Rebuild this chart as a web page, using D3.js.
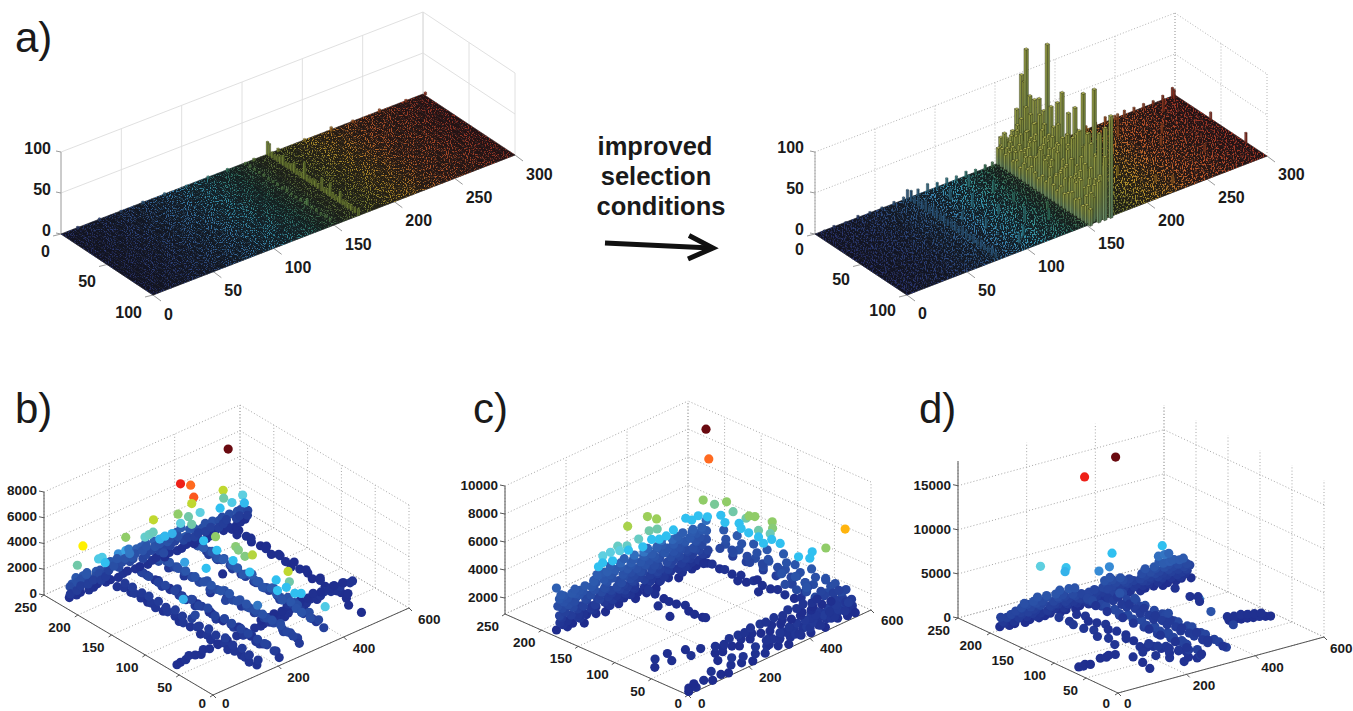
<!DOCTYPE html>
<html>
<head>
<meta charset="utf-8">
<script src="https://cdn.jsdelivr.net/npm/d3@7"></script>
<style>
  html, body { margin: 0; background: #fff; overflow: hidden; }
  text { font-family: "Liberation Sans", Arial, sans-serif; fill: #1a1a1a; }
  .tick3d { font-weight: bold; }
</style>
</head>
<body>
<script>
// ---- data ----------------------------------------------------------------

const xTicksA = [0, 50, 100, 150, 200, 250, 300];
const yTicksA = [0, 50, 100];
const zTicksA = [0, 50, 100];
const xTicksS = [0, 200, 400, 600];
const yTicksS = [0, 50, 100, 150, 200, 250];
const zTicksB = [0, 2000, 4000, 6000, 8000];
const zTicksC = [2000, 4000, 6000, 8000, 10000];
const zTicksD = [0, 5000, 10000, 15000];

// position colour of the histogram floor
const heatStops = [0, 40, 80, 110, 135, 160, 180, 205, 240, 300];
const heatColors = ['#34418f', '#37549c', '#3a78ad', '#3a9fb8', '#3f9a82', '#7c9c4c', '#98a03a', '#c49a2c', '#c8622c', '#b0362a'];

// how much of the floor speckle shows at each x, by eye
const glowX = [0, 30, 60, 90, 120, 140, 165, 200, 240, 300];
const glowLeft = [0.5, 0.6, 0.75, 0.95, 0.75, 0.5, 0.5, 0.85, 0.85, 0.7];
const glowRight = [0.55, 0.6, 0.65, 1, 0.9, 0.55, 0.5, 0.9, 0.95, 0.8];

// left histogram: the readable bars only, the rest of the 300x100 floor is
// too fine to read and is shown as a speckle texture
const leftBarX = [
  170,170,170,170,170,170,170,170,170,170,170,170,170,170,170,170,170,170,170,170,170,170,170,170,170,170,170,170,170,170,170,170,170,170,
  151,151,151,151,151,151,151,151,151,151,151,151,151,151,151,151,151,151,151,151,
  12,30,48,66,84,102,120,136,158,178,200,222,240,262,284,300];
const leftBarY = [
  0,2,5,8,11,14,17,20,23,26,29,32,35,38,40,43,46,49,52,55,59,62,65,68,71,74,77,79,82,85,88,91,95,99,
  1,6,11,16,21,26,31,36,41,46,51,56,61,66,68,73,78,83,88,93,
  1,1,1,1,1,1,1,1,1,1,1,1,1,1,1,1];
const leftBarZ = [
  16,15,7,6,7,9,12,6,7,8,12,6,6,7,21,7,6,7,8,6,16,6,7,16,7,6,6,14,6,7,6,7,6,8,
  2,3,2,2,3,2,2,3,2,3,2,2,3,3,8,2,3,2,3,2,
  3,3,2,3,3,2,3,3,3,4,3,5,3,4,3,3];

// right histogram: the tall rows around x = 151..170
const peakX = [
  168,168,168,168,168,168,168,168,168,168,168,168,168,168,168,168,168,168,168,
  165.5,165.5,165.5,165.5,165.5,165.5,165.5,165.5,165.5,165.5,165.5,165.5,165.5,165.5,165.5,165.5,165.5,165.5,165.5,165.5,
  163,163,163,163,163,163,163,163,163,163,163,163,163,163,163,163,163,
  160.5,160.5,160.5,160.5,160.5,160.5,160.5,160.5,160.5,160.5,160.5,160.5,160.5,160.5,160.5,160.5,160.5,160.5,160.5,160.5,
  158,158,158,158,158,158,158,158,158,158,158,158,158,158,158,158,158,158,158,158,158,
  155.5,155.5,155.5,155.5,155.5,155.5,155.5,155.5,155.5,155.5,155.5,155.5,155.5,155.5,155.5,155.5,155.5,155.5,155.5,155.5,
  153,153,153,153,153,153,153,153,153,153,153,153,153,153,153,153,153,153,153,153,153,
  151,151,151,151,151,151,151,151,151,151,151,151,151,151,151,151,151,151,151,151,151,151,151,151,151,151];
const peakY = [
  3,6,8,12,17,22,27,31,35,42,47,54,61,70,76,82,88,94,100,
  1,6,11,16,21,26,31,36,41,46,51,56,61,66,71,76,81,86,91,96,
  5,10,16,23,32,38,43,48,54,60,65,72,81,85,90,94,100,
  3,8,13,18,23,28,33,38,43,48,53,58,63,68,73,78,83,88,93,98,
  0,5,10,15,20,25,30,35,40,45,50,55,60,65,70,75,80,85,90,95,100,
  2,7,12,17,22,27,32,37,42,47,52,57,62,67,72,77,82,87,92,97,
  0,1,4,7,13,16,22,27,32,38,43,48,54,60,65,70,76,82,87,93,98,
  0,4,8,12,16,20,24,28,32,36,40,44,48,52,56,60,64,68,72,76,80,84,88,92,96,100];
const peakZ = [
  102,96,137,83,82,87,76,160,87,97,113,93,105,129,85,143,90,105,124,
  60,52,70,65,58,72,64,55,68,75,60,70,62,78,66,72,60,68,74,62,
  45,30,46,60,59,50,59,55,66,62,74,88,91,82,70,101,77,
  38,42,34,48,44,52,40,56,46,50,58,44,60,52,48,62,50,56,46,54,
  28,35,38,44,30,42,47,35,50,40,38,52,36,44,55,40,48,60,46,42,50,
  26,30,24,34,28,38,30,26,40,34,42,28,36,44,30,38,42,34,40,30,
  32,23,40,24,30,26,32,28,32,36,49,40,36,30,37,34,40,38,45,30,37,
  20,22,18,24,16,20,14,22,18,24,20,16,22,18,26,20,16,24,18,22,26,20,24,18,22,20];

// right histogram: other visible bars (step at x = 75, back edge, spikes)
const floorBarX = [
  76,76,76,76,76,76,76,76,76,76,76,76,76,76,76,76,76,76,76,76,76,76,76,76,76,
  6,14,24,34,44,54,64,72,84,92,100,108,116,124,132,140,146,176,184,192,200,208,216,224,232,240,248,256,264,272,280,288,296,
  98,104,112,120,88,94,126,108,118,130,100,142,134,190,205,220,236,252,270,245,262,280,210,228,296,298,299];
const floorBarY = [
  0,4,8,12,16,20,24,28,32,36,40,44,48,52,56,60,64,68,72,76,80,84,88,92,96,
  1,1,1,1,1,1,1,1,1,1,1,1,1,1,1,1,1,1,1,1,1,1,1,1,1,1,1,1,1,1,1,1,1,
  18,34,52,70,44,62,28,84,12,45,90,66,78,30,60,82,20,46,70,8,34,12,42,90,3,40,77];
const floorBarZ = [
  11,13,9,12,10,13,9,11,12,9,11,8,10,10,8,11,9,8,10,8,9,7,8,8,7,
  2,3,2,4,3,3,4,5,8,10,7,8,6,7,5,6,6,5,6,4,6,5,7,6,6,8,5,7,6,6,5,7,12,
  14,16,12,17,11,13,15,12,14,10,11,9,13,10,12,9,13,11,10,14,12,16,9,10,11,10,12];

// scatter b): one line per ridge, last block are the single points above them
const bX = [
  517,512,520,515,522,518,514,520,516,512,518,522,515,519,513,517,521,516,500,498,
  528,524,530,526,532,527,529,525,531,
  18,33,47,63,78,92,107,122,150,165,180,205,220,235,262,277,292,320,335,350,365,380,395,410,425,440,455,470,485,500,515,530,545,558,570,
  300,320,342,362,384,404,426,446,468,488,510,530,552,
  141,146,150,144,148,152,146,143,150,147,153,149,145,150,155,148,152,146,151,156,149,153,158,152,148,155,
  157,155,159,156,160,158,162,159,163,161,165,162,166,164,168,165,167,
  219,214,222,216,210,218,224,213,217,221,212,216,222,215,210,219,223,214,218,212,220,216,211,217,222,213,
  228,230,226,232,229,227,233,230,226,
  205,203,207,204,208,205,209,206,210,207,211,208,212,209,213,210,214,
  278,284,288,282,290,294,292,298,296,300,
  262,270,276,268,274,280,266,272,278,270,275,281,268,273,279,284,276,281,287,278,283,287,280,285,290,283,
  258,262,264,262,266,268,266,270,272,270,274,276,274,278,280,278,280,
  396,392,394,390,392,388,390,386,388,384,
  388,384,386,382,385,380,383,378,381,376,378,
  376,371,368,374,378,370,366,373,377,369,365,372,376,368,364,371,375,367,363,370,374,366,362,369,373,364,
  362,358,360,356,362,358,354,360,356,352,358,354,350,356,352,348,354,350,346,352,
  30,48,66,84,102,120,138,156,174,192,210,228,246,264,282,300,318,336,354,372,390,408,426,444,462,480,498,516,534,552,570,
  32,50,68,86,104,122,140,158,176,194,212,230,248,266,284,302,320,338,356,374,392,410,428,446,464,482,500,518,536,554,572,
  30,48,66,84,102,120,138,
  31,47,67,83,103,119,139,155,175,191,211,227,247,263,283,299,319,335,355,371,391,407,427,443,463,479,499,515,535,551,571,
  160,178,196,214,232,250,268,286,304,322,340,358,
  510,362,391,357,384,478,490,544,507,477,537,344,374,418,352,357,269,184,245,258,270,57,36,107,118,115,78,284,300,322,200,343,353,351,344,342,352,358,363,359,356,367,362,147,271,275,263,369,292,167,352,347,345,340,334];
const bY = [
  222,212,202,192,182,172,162,152,142,132,122,112,102,92,82,72,62,52,22,40,
  217,197,177,157,137,117,97,77,57,
  62,64,63,66,64,62,66,64,65,63,66,64,62,66,65,63,66,64,66,63,65,68,66,64,67,69,66,68,70,67,65,68,70,67,69,
  74,72,75,73,76,74,77,75,78,76,74,77,75,
  210,202,194,186,178,170,162,154,146,138,130,122,114,106,98,90,82,74,66,58,50,42,34,26,18,10,
  206,194,182,170,158,146,134,122,110,98,86,74,62,50,38,26,14,
  209,201,193,185,177,169,161,153,145,137,129,121,113,105,97,89,81,73,65,57,49,41,33,25,14,5,
  195,175,155,135,115,95,75,55,35,
  205,193,181,169,157,145,133,121,109,97,85,73,61,49,37,25,13,
  200,180,160,140,120,100,80,60,40,20,
  207,199,191,183,175,167,159,151,143,135,127,119,111,103,95,87,79,71,63,55,47,39,31,23,15,9,
  203,191,179,167,155,143,131,119,107,95,83,71,59,47,35,25,17,
  201,183,165,147,129,111,93,75,57,39,
  210,192,174,156,138,120,102,84,66,48,30,
  220,212,204,196,188,180,172,164,156,148,140,132,124,116,108,100,92,84,76,68,60,52,44,36,24,12,
  216,206,196,186,176,166,156,146,136,126,116,106,96,86,76,66,56,46,36,26,
  227,225,228,224,226,229,225,227,224,226,228,225,227,224,226,229,225,227,224,226,228,225,227,224,226,229,225,227,224,226,228,
  224,227,225,228,223,226,224,228,225,223,227,224,226,228,224,225,227,223,226,228,224,226,223,227,225,224,228,226,223,227,225,
  226,224,227,225,223,226,224,
  226,224,228,225,227,223,226,229,224,227,225,228,223,226,228,224,227,225,228,223,226,224,228,225,227,223,226,229,224,227,225,
  224,228,225,223,227,225,228,224,226,223,228,225,
  224,223,222,201,217,216,221,219,217,220,213,218,217,221,218,204,218,218,219,219,219,220,218,221,221,215,225,216,216,216,220,162,137,132,119,107,59,60,82,65,51,47,9,115,65,143,169,164,214,107,184,162,137,110,66];
const bZ = [
  150,90,200,120,60,180,100,240,140,80,160,110,60,190,120,70,150,90,100,120,
  100,160,90,130,80,150,110,90,130,
  220,180,260,300,240,190,280,230,210,260,180,300,250,190,230,280,200,260,220,170,240,300,260,200,280,340,250,300,380,320,260,330,400,350,300,
  140,180,120,160,200,150,130,170,210,150,190,140,170,
  300,420,260,500,340,220,460,380,280,520,360,240,430,310,500,270,400,340,220,460,300,380,260,420,330,280,
  520,600,480,640,560,500,620,540,680,500,600,520,640,480,560,450,400,
  520,640,430,700,580,480,720,600,450,660,540,700,430,610,520,680,470,590,720,500,630,440,560,680,480,350,
  300,260,340,280,320,250,310,270,330,
  850,920,800,960,880,820,940,860,990,810,900,960,840,900,780,860,620,
  520,460,600,420,560,480,620,440,520,380,
  1000,1150,900,1250,1050,850,1200,1000,1300,950,1150,1250,880,1100,1300,950,1200,1050,820,1150,950,1100,800,900,700,550,
  1350,1420,1300,1500,1380,1320,1460,1350,1480,1300,1400,1260,1360,1220,1150,1000,900,
  480,420,520,440,400,500,430,380,460,400,
  700,620,760,650,590,720,640,560,680,600,500,
  1250,1100,1350,1200,1050,1400,1150,1300,1050,1250,1400,1100,1300,1150,1350,1050,1250,1400,1150,1300,1100,1250,1000,1150,900,750,
  1500,1600,1450,1650,1550,1450,1700,1500,1620,1480,1680,1540,1450,1620,1500,1400,1500,1350,1400,1200,
  180,240,150,260,200,170,230,150,210,260,180,240,150,220,270,190,150,230,260,180,220,160,240,190,150,210,170,230,160,200,150,
  1300,1500,1500,1450,1500,1300,1200,1500,2000,2100,1900,1800,1700,1750,1800,1650,1600,1550,1600,1700,1500,1300,1200,1250,1300,1150,1100,1200,1300,1100,900,
  1050,1250,1200,1100,1150,1050,950,
  480,620,640,700,720,660,600,820,1000,1100,1000,950,900,920,960,880,860,840,860,920,820,740,700,720,760,680,660,700,740,660,540,
  1250,1500,1400,1350,1300,1400,1450,1350,1300,1350,1250,1300,
  6400,5400,5000,5100,3800,3800,2900,2600,2500,2300,2250,3400,2900,2600,2600,2900,3800,3400,2700,2750,2800,4100,2900,2500,2500,2300,1500,2200,2250,2200,1900,3400,3300,3200,3200,3700,3800,2900,2300,2300,2300,2300,2500,2200,1900,2300,2100,150,1100,1000,2300,2300,2300,2300,2300];

// scatter c)
const cX = [
  20,44,68,92,116,140,164,188,212,236,260,284,308,332,356,380,404,428,452,476,500,
  32,56,80,104,128,152,176,200,224,248,272,296,320,344,368,392,416,440,464,488,
  24,40,72,88,120,136,168,184,216,232,264,280,312,328,360,376,408,424,456,472,504,
  30,54,82,102,130,150,178,198,226,246,274,294,322,342,370,390,418,438,466,486,
  18,46,66,94,114,142,162,190,210,238,258,286,306,334,354,382,402,430,450,478,498,
  34,58,78,106,126,154,174,202,222,250,270,298,318,346,366,394,414,442,462,490,
  22,42,70,90,118,138,166,186,214,234,262,282,310,330,358,378,406,426,454,474,502,
  32,54,80,102,128,150,176,198,224,246,272,294,320,342,368,390,416,438,464,486,
  20,44,68,92,116,140,164,188,212,236,260,284,308,332,356,380,404,428,452,476,500,
  30,56,78,104,126,152,174,200,222,248,270,296,318,344,366,392,414,440,462,488,
  146,170,194,218,242,266,290,314,338,362,386,410,434,458,482,506,
  296,300,305,298,303,308,300,295,302,298,290,262,248,
  488,492,497,490,495,500,494,498,503,506,510,512,505,515,476,520,480,
  530,512,526,508,532,514,528,510,534,516,524,506,530,512,528,508,534,
  508,526,504,522,510,530,506,524,512,528,504,522,508,530,514,526,510,
  520,516,524,518,526,520,515,522,527,518,524,516,526,520,528,518,524,
  480,472,486,476,490,480,470,484,
  545,555,540,560,548,558,566,552,538,550,562,544,
  12,22,34,48,66,88,100,120,140,160,172,190,205,222,240,250,265,280,295,310,325,340,355,370,385,400,415,430,445,460,475,490,505,520,535,550,565,558,
  300,316,332,348,364,380,396,412,428,444,460,476,492,508,524,540,556,
  360,376,394,410,426,442,458,474,490,506,522,538,
  440,470,500,530,300,340,380,420,460,520,
  190,205,220,240,255,275,295,315,335,355,375,395,415,435,455,475,495,515,535,555,
  200,224,248,272,296,320,344,368,392,416,440,464,488,512,536,
  40,60,86,110,125,150,165,176,
  527,505,489,507,520,515,512,512,505,521,503,488,500,512,520,263,335,341,312,331,216,232,275,167,192,213,244,136,157,180,279,320,333,356,389,451,454,480,491,518,498,518,503,499,500,485,512,511,492,505,532,27];
const cY = [
  188,183,186,180,187,184,181,188,183,186,180,187,184,182,188,185,181,186,183,187,182,
  184,188,181,186,183,189,180,185,187,182,186,183,188,181,185,187,182,184,188,183,
  185,189,181,186,183,188,184,180,187,182,185,189,181,186,183,188,184,180,187,182,185,
  187,182,185,188,181,186,183,187,180,185,188,182,186,184,181,187,183,185,188,182,
  183,187,190,182,186,180,188,184,181,187,183,186,189,181,185,182,187,183,188,184,180,
  186,181,187,184,188,182,185,181,187,183,186,188,182,185,181,187,184,186,182,185,
  187,181,185,189,182,186,183,188,180,185,187,182,186,183,188,181,185,187,182,186,184,
  183,187,182,186,181,188,184,186,182,187,183,181,186,184,188,182,185,187,183,186,
  184,188,182,186,180,187,183,185,189,181,186,183,187,184,180,186,188,182,185,187,183,
  186,182,187,184,181,186,188,183,185,181,187,184,182,186,188,183,185,181,187,184,
  185,181,187,183,188,184,181,186,183,187,182,185,188,184,182,186,
  180,170,160,150,142,132,124,114,106,100,175,150,128,
  182,172,164,154,146,136,126,118,108,98,90,68,78,60,102,122,132,
  172,162,152,142,132,122,112,102,92,82,72,62,52,42,32,22,12,
  168,158,148,138,128,118,108,98,88,78,68,58,48,38,28,18,8,
  165,155,145,135,125,115,105,95,85,75,65,55,45,35,25,15,5,
  72,64,56,50,44,38,34,28,
  26,22,16,12,30,8,20,5,36,14,28,10,
  4,8,3,12,6,3,10,5,3,8,12,6,10,4,8,12,5,9,13,6,10,4,8,13,6,10,5,12,7,4,9,13,6,10,5,8,12,4,
  14,16,13,15,17,14,16,13,15,17,14,16,13,15,17,14,16,
  3,5,2,4,6,3,5,2,4,6,3,5,
  16,20,15,19,18,16,20,15,17,14,
  42,38,44,40,36,42,38,44,40,36,42,38,44,40,36,42,38,44,40,36,
  46,44,47,45,46,48,45,47,46,44,47,45,46,44,47,
  62,70,58,74,48,66,28,56,
  195,182,183,175,164,153,134,122,127,102,94,107,96,25,2,192,195,185,183,180,186,180,182,186,186,182,183,179,182,178,178,183,178,178,182,191,184,186,178,171,157,146,137,125,112,99,99,87,54,44,52,191];
const cZ = [
  950,1050,1000,900,1100,1000,950,1050,1000,1100,950,1000,1050,900,1000,1100,950,1000,1050,950,1000,
  1300,1250,1350,1300,1400,1250,1300,1350,1250,1300,1400,1300,1250,1350,1300,1400,1250,1350,1300,1250,
  1500,1600,1550,1450,1600,1500,1550,1650,1450,1550,1600,1500,1650,1550,1450,1600,1500,1550,1650,1500,1550,
  1850,1800,1900,1850,1800,1900,1850,1800,1900,1850,1800,1900,1850,1800,1900,1850,1800,1900,1850,1800,
  2100,2000,2150,2050,2200,2100,2000,2150,2100,2000,2150,2050,2200,2100,2000,2150,2100,2050,2200,2100,2000,
  2400,2350,2450,2400,2350,2450,2400,2350,2450,2400,2350,2450,2400,2350,2450,2400,2350,2450,2400,2350,
  2650,2700,2550,2650,2600,2700,2600,2650,2550,2700,2650,2600,2700,2550,2650,2700,2600,2650,2550,2700,2650,
  2950,2900,3000,2950,2900,3000,2950,2900,3000,2950,2900,3000,2950,2900,3000,2950,2900,3000,2950,2900,
  3250,3150,3200,3100,3250,3300,3200,3250,3150,3300,3200,3250,3300,3150,3250,3200,3150,3300,3200,3250,3300,
  3400,3350,3300,3350,3500,3550,3500,3550,3500,3600,3500,3550,3500,3550,3500,3450,3500,3450,3500,3450,
  3700,3750,3800,3850,3800,3900,3950,3850,3800,3900,3850,3750,3700,3800,3750,3900,
  1000,1100,950,1050,1000,1100,950,1000,900,1050,1400,1100,1000,
  1100,1250,1050,1300,1100,1200,1000,1250,1100,1050,1150,1000,1100,1200,1050,1000,1100,
  3300,2700,3400,2800,3200,2600,3300,2900,3400,2700,3200,2800,3300,2600,3100,2500,2200,
  2300,1800,2500,1900,2200,1700,2400,1800,2300,1700,2100,1600,2300,1800,2100,1600,1500,
  2900,2400,3000,2400,2800,2300,2900,2500,3000,2300,2800,2400,2900,2200,2700,2100,1900,
  3000,2500,3100,2400,2900,2500,3000,2300,
  2700,2100,2400,1600,1900,1400,2200,1200,2800,1700,2000,1100,
  900,950,1000,900,1100,950,1300,1000,950,1200,1500,1100,1300,950,1200,1500,1050,1300,1600,1100,1400,950,1200,1600,1100,1350,1000,1500,1200,950,1300,1600,1100,1400,1000,1300,1700,1000,
  1100,1300,1200,1500,1250,1400,1600,1300,1500,1700,1350,1550,1800,1400,1600,1800,1500,
  1500,1300,1700,1400,1600,1300,1800,1500,1400,1700,1500,1900,
  1500,1600,1400,1800,1300,1500,1400,1600,1500,1700,
  950,1000,1050,1000,950,1100,1000,1050,950,1000,1100,1050,1000,950,1100,1000,1050,950,1000,1100,
  1250,1200,1300,1350,1250,1300,1400,1250,1350,1300,1400,1300,1350,1250,1200,
  1000,1200,1100,1000,1300,1050,1000,1100,
  10000,8400,5600,5300,5600,5200,5200,5600,5600,5600,5500,5200,5100,5600,7400,5800,5700,5700,5200,5200,5000,5000,5000,4800,4800,4800,4500,4500,4500,4500,4500,4500,4500,4500,4500,4500,4500,4500,4500,4500,4500,4500,4500,4500,4500,4500,4500,4500,4500,4500,4500,3800];

// scatter d)
const dX = [
  34,55,76,97,118,139,160,181,202,223,244,265,286,307,328,349,370,391,412,433,454,475,496,517,538,559,580,
  44,66,88,108,130,150,170,192,212,234,254,276,296,318,338,360,380,402,422,444,464,486,506,528,548,570,
  36,53,78,95,120,137,162,179,204,221,246,263,288,305,330,347,372,389,414,431,456,473,498,515,540,557,578,
  46,64,88,106,130,148,172,190,214,232,256,274,298,316,340,358,382,400,424,442,466,484,508,526,550,568,
  33,56,75,98,117,140,159,182,201,224,243,266,285,308,327,350,369,392,411,434,453,476,495,518,537,560,582,
  88,110,130,152,172,194,214,236,340,362,384,442,462,484,504,526,546,568,
  100,121,142,163,184,205,226,247,332,353,374,452,473,494,515,536,
  490,505,520,535,550,498,514,530,
  160,168,157,165,172,160,170,162,
  215,222,212,218,225,214,220,228,210,217,
  20,30,42,52,90,104,118,132,480,494,508,522,536,550,564,575,
  486,502,518,534,550,566,
  202,214,226,238,250,262,274,210,232,254,268,184,196,143,152,154,
  220,244,228,256,240,266,
  266,260,270,263,272,265,258,268,274,262,270,264,272,266,275,268,262,272,266,
  256,252,258,254,260,256,262,258,264,260,266,262,268,264,270,266,
  280,276,284,278,286,282,288,284,290,
  330,326,334,328,336,331,325,333,338,329,335,328,336,331,338,333,340,335,338,
  320,316,322,318,324,320,326,322,328,324,330,326,332,328,334,330,
  345,342,348,344,350,346,352,348,354,
  351,268,470,348,147,203,213,323,359,398,405,337,429,309,334,500,495,509,493,228];
const dY = [
  203,199,202,197,201,198,200,203,198,201,197,202,199,201,197,203,198,200,202,197,201,199,196,200,198,201,197,
  201,198,203,200,197,201,199,202,198,203,200,197,201,199,203,198,200,197,202,199,201,198,203,200,197,201,
  199,203,197,201,198,202,197,200,203,198,201,199,203,197,200,198,202,199,197,201,199,203,198,200,197,199,202,
  198,202,199,197,201,203,198,200,197,202,199,201,198,203,200,197,201,199,203,198,200,197,202,199,201,198,
  201,197,200,203,199,196,202,198,200,203,197,200,198,202,199,197,201,199,203,198,200,197,201,199,202,197,200,
  198,201,197,200,203,198,201,197,200,203,198,200,197,201,198,203,199,197,
  200,197,202,199,196,201,198,200,199,202,197,200,197,201,198,200,
  192,190,194,191,193,204,203,205,
  178,166,154,142,130,118,106,92,
  180,170,160,150,140,130,120,110,100,92,
  72,70,74,71,76,74,78,75,84,82,80,78,76,74,72,70,
  90,88,86,84,82,80,
  74,70,66,60,54,46,40,32,44,26,20,60,46,27,43,59,
  70,56,60,42,50,36,
  190,180,170,160,150,140,130,120,110,100,90,80,70,60,50,40,30,22,14,
  185,175,165,155,145,135,125,115,105,95,85,75,65,55,45,35,
  185,165,145,125,105,85,65,45,25,
  192,182,172,162,152,142,132,122,112,102,92,82,72,62,52,42,32,22,12,
  187,177,167,157,147,137,127,117,107,97,87,77,67,57,47,37,
  186,166,146,126,106,86,66,46,26,
  192,196,183,196,200,190,197,203,206,86,72,102,50,163,153,179,153,148,137,19];
const dZ = [
  250,300,200,280,240,320,260,220,300,250,280,230,300,210,260,320,240,280,220,300,250,330,280,240,300,260,220,
  620,680,640,700,620,660,700,640,680,620,700,640,660,620,700,640,680,620,660,700,640,680,620,700,660,640,
  950,1050,1000,1100,1000,1050,950,1100,1000,1050,950,1100,1000,1050,1100,1000,950,1050,1000,950,1100,1000,1050,1100,1000,1050,900,
  1350,1300,1400,1350,1300,1400,1350,1300,1400,1350,1300,1400,1350,1300,1400,1350,1300,1400,1350,1300,1400,1350,1300,1400,1350,1300,
  1400,1600,1700,1650,1750,1800,1700,1750,1800,1700,1750,1650,1700,1600,1750,1700,1800,1650,1700,1600,1750,1800,1700,1750,1800,1700,1550,
  2000,2050,2100,2000,2150,2100,2050,2000,2050,2100,2000,2050,2100,2150,2200,2100,2050,1950,
  2300,2400,2500,2550,2600,2650,2700,2500,2450,2500,2400,2500,2600,2800,2750,2650,
  3000,3100,3000,2950,2900,3300,3350,3250,
  800,700,850,750,900,700,800,650,
  500,600,450,550,650,500,600,450,550,500,
  300,350,300,280,400,450,380,420,300,350,280,320,300,350,280,260,
  450,400,500,420,380,350,
  600,550,650,500,600,450,550,700,600,500,450,650,600,350,400,450,
  900,800,850,750,700,650,
  1300,1500,1200,1600,1400,1250,1550,1350,1600,1300,1450,1200,1500,1350,1250,1450,1100,1300,1000,
  1750,1850,1700,1900,1800,1700,1850,1750,1900,1700,1800,1700,1750,1650,1550,1500,
  650,700,600,720,640,680,560,620,500,
  1700,1500,1900,1600,1800,1500,2000,1700,1600,1900,1500,1800,1600,1900,1500,1700,1400,1500,1200,
  1000,1100,950,1050,1150,1000,1050,950,1100,1000,1050,950,1000,1050,900,950,
  900,800,950,850,1000,800,900,750,700,
  16500,15000,5500,5500,6000,5600,4800,3500,3500,3500,2500,2000,1500,2500,2000,500,500,500,500,500];

// z -> colour of the scatter points, same colour ramp with one set of breaks per panel
const pointColors = ['#1e2a8c', '#284aa2', '#2e5fb2', '#3a9ae0', '#30c0f0', '#5ecfe0', '#70c8a8', '#90cc68', '#c0d830', '#fff000', '#ff6a20', '#ee2018', '#6a0a10'];
const bBreaks = [0, 1100, 1800, 2050, 2300, 2600, 2900, 3400, 3800, 4100, 5000, 5400, 6400];
const cBreaks = [860, 2500, 3800, 4200, 4500, 4800, 5200, 5600, 6000, 6600, 8400, 9000, 10000];
const dBreaks = [0, 2000, 3200, 3600, 5500, 6000, 7000, 8000, 9500, 11000, 13000, 15000, 16500];

// ---- drawing ---------------------------------------------------------------

const svg = d3.select('body').append('svg').attr('width', 1353).attr('height', 711);
const defs = svg.append('defs');

const heat = d3.scaleLinear().domain(heatStops).range(heatColors);

function speckleFilter(id, freq, slope, cut) {
  const f = defs.append('filter').attr('id', id)
    .attr('x', '-2%').attr('y', '-2%').attr('width', '104%').attr('height', '104%')
    .attr('color-interpolation-filters', 'sRGB');
  f.append('feTurbulence').attr('type', 'fractalNoise').attr('baseFrequency', freq)
    .attr('numOctaves', 2).attr('seed', 4).attr('result', 'n');
  f.append('feColorMatrix').attr('in', 'n').attr('type', 'matrix')
    .attr('values', `0 0 0 0 0 0 0 0 0 0 0 0 0 0 0 ${slope} 0 0 0 ${cut}`).attr('result', 'm');
  f.append('feComposite').attr('in', 'SourceGraphic').attr('in2', 'm').attr('operator', 'in');
  f.append('feGaussianBlur').attr('stdDeviation', 0.4);
}
speckleFilter('speckleLeft', '0.95 0.85', 7, -3.75);
speckleFilter('speckleRight', '0.9 0.5', 7, -3.5);

function faceGradient(id, top, mid, bottom) {
  const grad = defs.append('linearGradient').attr('id', id).attr('x1', 0).attr('x2', 0).attr('y1', 0).attr('y2', 1);
  grad.append('stop').attr('offset', '0%').attr('stop-color', top);
  grad.append('stop').attr('offset', '50%').attr('stop-color', mid);
  grad.append('stop').attr('offset', '100%').attr('stop-color', bottom);
}
faceGradient('peakFill', '#9a9f42', '#879650', '#719672');
faceGradient('peakShade', '#7a8336', '#6a7c44', '#567a60');

const line3d = d3.line();

// one 3d box: screen position of a data point through three linear scales
function makeBox(c) {
  const fx = d3.scaleLinear().domain(c.xDomain).range([0, 1]);
  const fy = d3.scaleLinear().domain(c.yDomain).range([0, 1]);
  const fz = d3.scaleLinear().domain(c.zDomain).range([0, 1]);
  return (x, y, z) => [
    c.base[0] + fx(x) * c.xVec[0] + fy(y) * c.yVec[0],
    c.base[1] + fx(x) * c.xVec[1] + fy(y) * c.yVec[1] - fz(z) * c.zLen
  ];
}

function drawGrid(g, p, c) {
  const z0 = c.zDomain[0], z1 = c.zDomain[1];
  const x1 = c.xDomain[1], y0 = c.yDomain[0], y1 = c.yDomain[1];
  const wallY = c.wallY;
  const seg = (a, b) => g.append('path').attr('d', line3d([a, b])).attr('fill', 'none')
    .attr('stroke', c.gridColor).attr('stroke-width', c.gridWidth).attr('stroke-dasharray', c.gridDash);

  c.xTicks.forEach(t => seg(p(t, wallY, z0), p(t, wallY, z1)));
  c.yTicks.forEach(t => seg(p(x1, t, z0), p(x1, t, z1)));
  c.zGrid.forEach(t => {
    seg(p(0, wallY, t), p(x1, wallY, t));
    seg(p(x1, y0, t), p(x1, y1, t));
  });
  if (c.floorGrid) {
    c.xTicks.forEach(t => seg(p(t, y0, z0), p(t, y1, z0)));
    c.yTicks.forEach(t => seg(p(0, t, z0), p(x1, t, z0)));
  }
}

function drawAxes(g, p, c) {
  const z0 = c.zDomain[0], z1 = c.zDomain[1];
  const x1 = c.xDomain[1];
  const front = c.frontY, wallY = c.wallY;
  const axis = (a, b, col) => g.append('path').attr('d', line3d([a, b])).attr('fill', 'none')
    .attr('stroke', col || c.axisColor).attr('stroke-width', 1);
  // keep the lowest labels inside the 711 px window
  const label = (pt, off, anchor, s) => g.append('text').attr('class', 'tick3d')
    .attr('x', pt[0] + off[0]).attr('y', Math.min(pt[1] + off[1], 703)).attr('dy', '0.36em')
    .attr('text-anchor', anchor).attr('font-size', c.fontSize).text(s);

  axis(p(0, front, z0), p(x1, front, z0));
  axis(p(0, front, z0), p(0, wallY, z0));
  axis(p(0, wallY, z0), p(0, wallY, z1), c.zAxisColor);

  const tl = c.tickLen;
  c.xTicks.forEach(t => {
    const a = p(t, front, z0);
    axis(a, [a[0] + tl[0], a[1] + tl[1]]);
    label(a, c.xLabel, 'start', t);
  });
  c.yTicks.forEach(t => {
    const a = p(0, t, z0);
    axis(a, [a[0] - tl[0], a[1] + tl[2]]);
    label(a, c.yLabel, 'end', t);
  });
  c.zTicks.forEach(t => {
    const a = p(0, wallY, t);
    axis(a, [a[0] - 5, a[1] - 1]);
    label(a, c.zLabel, 'end', t);
  });
}

function drawFloor(g, p, c, glow) {
  const strips = d3.range(0, 300, 5);
  const glowAt = d3.scaleLinear().domain(glowX).range(glow);
  const corners = x => [p(x, 0, 0), p(x + 5, 0, 0), p(x + 5, 100, 0), p(x, 100, 0)];
  g.selectAll('.under').data(strips).join('polygon').attr('class', 'under')
    .attr('points', d => corners(d).join(' '))
    .attr('fill', d => d3.interpolateRgb(heat(d), '#0c0c10')(0.86))
    .attr('stroke', d => d3.interpolateRgb(heat(d), '#0c0c10')(0.86)).attr('stroke-width', 0.6);
  // the floor bars are finer than the picture can resolve, so they are a texture here
  g.append('g').attr('filter', `url(#${c.speckle})`)
    .selectAll('polygon').data(strips).join('polygon')
    .attr('points', d => corners(d).join(' '))
    .attr('fill', d => heat(d)).attr('stroke', d => heat(d)).attr('stroke-width', 0.6)
    .attr('fill-opacity', d => glowAt(d)).attr('stroke-opacity', d => glowAt(d));
}

function drawBars(g, p, bars, w, fillOf, edge) {
  // back rows first
  const order = bars.slice().sort((a, b) => (b.x - a.x) || (a.y - b.y));
  const sel = g.append('g').selectAll('g').data(order).join('g');
  const poly = (fn, shade) => sel.append('polygon').attr('points', d => fn(d).join(' '))
    .attr('fill', d => shade(d)).attr('stroke', edge).attr('stroke-width', 0.45);
  poly(d => [p(d.x, d.y + w, 0), p(d.x + w, d.y + w, 0), p(d.x + w, d.y + w, d.z), p(d.x, d.y + w, d.z)], d => fillOf(d, 0));
  poly(d => [p(d.x, d.y, 0), p(d.x, d.y + w, 0), p(d.x, d.y + w, d.z), p(d.x, d.y, d.z)], d => fillOf(d, 1));
  poly(d => [p(d.x, d.y, d.z), p(d.x + w, d.y, d.z), p(d.x + w, d.y + w, d.z), p(d.x, d.y + w, d.z)], d => fillOf(d, 2));
}

function heatFace(d, face) {
  const col = d3.color(heat(d.x));
  return face === 0 ? col.darker(0.9).formatHex() : face === 1 ? col.darker(0.3).formatHex() : col.formatHex();
}

function toBars(xs, ys, zs) {
  return xs.map((x, i) => ({ x: x, y: ys[i], z: zs[i] }));
}

function drawPoints(g, p, xs, ys, zs, breaks, r) {
  const color = d3.scaleLinear().domain(breaks).range(pointColors).clamp(true);
  g.append('g').selectAll('circle').data(toBars(xs, ys, zs)).join('circle')
    .attr('cx', d => p(d.x, d.y, d.z)[0])
    .attr('cy', d => p(d.x, d.y, d.z)[1])
    .attr('r', r)
    .attr('fill', d => color(d.z));
}

// ---- panel a), the two histograms ------------------------------------------

const histCommon = {
  xDomain: [0, 300], yDomain: [0, 100], zDomain: [0, 100],
  xTicks: xTicksA, yTicks: yTicksA, zTicks: zTicksA, zGrid: [50, 100],
  wallY: 0, frontY: 100, fontSize: 16, floorGrid: false, tickLen: [8, 6, 2]
};

const histLeft = Object.assign({}, histCommon, {
  base: [61, 234], xVec: [362, -140], yVec: [92, 61], zLen: 82,
  gridColor: '#dcdcdc', gridWidth: 0.9, gridDash: null,
  axisColor: '#9a9a9a', zAxisColor: '#a8a8a8', speckle: 'speckleLeft',
  xLabel: [11, 19], yLabel: [-11, 17], zLabel: [-10, -4]
});
const histRight = Object.assign({}, histCommon, {
  base: [815, 234], xVec: [360, -139], yVec: [92, 61], zLen: 82,
  gridColor: '#b4b4b4', gridWidth: 1, gridDash: '1 2',
  axisColor: '#9a9a9a', zAxisColor: '#a8a8a8', speckle: 'speckleRight',
  xLabel: [11, 18], yLabel: [-11, 15], zLabel: [-11, -5]
});

const gLeft = svg.append('g');
const pLeft = makeBox(histLeft);
drawGrid(gLeft, pLeft, histLeft);
drawAxes(gLeft, pLeft, histLeft);
drawFloor(gLeft, pLeft, histLeft, glowLeft);
drawBars(gLeft, pLeft, toBars(leftBarX, leftBarY, leftBarZ), 1.3, heatFace, 'rgba(30,34,16,0.5)');

const gRight = svg.append('g');
const pRight = makeBox(histRight);
drawGrid(gRight, pRight, histRight);
drawAxes(gRight, pRight, histRight);
drawFloor(gRight, pRight, histRight, glowRight);
drawBars(gRight, pRight, toBars(floorBarX, floorBarY, floorBarZ), 1.2, heatFace, 'rgba(20,22,16,0.6)');
drawBars(gRight, pRight, toBars(peakX, peakY, peakZ), 2.1,
  (d, face) => face === 2 ? '#b4b552' : face === 0 ? 'url(#peakShade)' : 'url(#peakFill)', 'rgba(36,42,20,0.85)');

// ---- panels b), c), d), the scatter plots ----------------------------------

const scatterCommon = {
  xDomain: [0, 600], yDomain: [0, 250],
  xTicks: xTicksS, yTicks: yTicksS,
  wallY: 250, frontY: 0, fontSize: 13.5, floorGrid: true,
  gridColor: '#a6a6a6', gridWidth: 1, gridDash: '1 2.2',
  axisColor: '#555', zAxisColor: '#555', tickLen: [3, 3, 2]
};

const boxB = Object.assign({}, scatterCommon, {
  base: [213, 695], xVec: [196, -87], yVec: [-169, -100], zDomain: [0, 8000], zLen: 103,
  zTicks: zTicksB, zGrid: zTicksB, xLabel: [9, 11], yLabel: [-7, 12], zLabel: [-7, -2]
});
const boxC = Object.assign({}, scatterCommon, {
  base: [688, 695], xVec: [183, -85], yVec: [-183, -81], zDomain: [860, 10000], zLen: 128,
  zTicks: zTicksC, zGrid: zTicksC.concat([860]), xLabel: [10, 10], yLabel: [-6, 12], zLabel: [-7, -1]
});
const boxD = Object.assign({}, scatterCommon, {
  base: [1118, 693], xVec: [206, -56], yVec: [-160, -75], zDomain: [0, 17800], zLen: 157,
  zTicks: zTicksD, zGrid: zTicksD, xLabel: [6, 11], yLabel: [-8, 12], zLabel: [-7, -1]
});

[[boxB, bX, bY, bZ, bBreaks], [boxC, cX, cY, cZ, cBreaks], [boxD, dX, dY, dZ, dBreaks]].forEach(row => {
  const g = svg.append('g');
  const p = makeBox(row[0]);
  drawGrid(g, p, row[0]);
  drawAxes(g, p, row[0]);
  drawPoints(g, p, row[1], row[2], row[3], row[4], 4.6);
});

// ---- panel letters and the middle caption ----------------------------------

const panelLetters = ['a)', 'b)', 'c)', 'd)'];
const letterX = [15, 15, 473, 919];
const letterY = [52, 423, 423, 423];
svg.selectAll('.letter').data(panelLetters).join('text').attr('class', 'letter')
  .attr('x', (d, i) => letterX[i]).attr('y', (d, i) => letterY[i])
  .attr('font-size', 42).text(d => d);

const captionLines = ['improved', 'selection', 'conditions'];
const captionX = [655, 656, 661];
const captionY = [155, 185, 215];
svg.selectAll('.cap').data(captionLines).join('text').attr('class', 'cap')
  .attr('x', (d, i) => captionX[i]).attr('y', (d, i) => captionY[i])
  .attr('text-anchor', 'middle').attr('font-weight', 'bold').attr('font-size', 25.5)
  .attr('fill', '#111').text(d => d);

svg.append('path').attr('d', 'M605,243L711,248').attr('fill', 'none').attr('stroke', '#111').attr('stroke-width', 5);
svg.append('path').attr('d', 'M689,235.5L713,248L688,259').attr('fill', 'none').attr('stroke', '#111')
  .attr('stroke-width', 5).attr('stroke-linejoin', 'miter');
</script>
</body>
</html>
